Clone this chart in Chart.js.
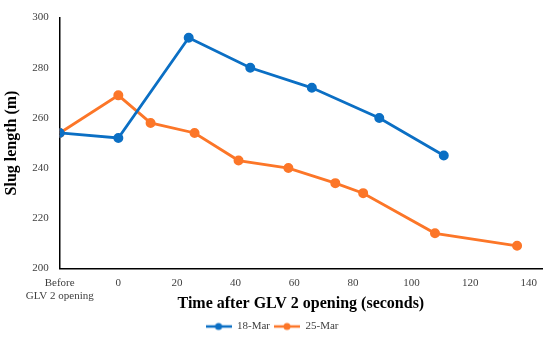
<!DOCTYPE html>
<html>
<head>
<meta charset="utf-8">
<script src="https://cdn.jsdelivr.net/npm/chart.js@4.4.0/dist/chart.umd.min.js"></script>
<style>
  html, body { margin: 0; padding: 0; background: #fff; }
  #wrap { width: 550px; height: 350px; }
</style>
</head>
<body>
<div id="wrap"><canvas id="slugChart"></canvas></div>
<script>
// Slug length after GLV 2 opening
const BEFORE = -20; // position used for "Before GLV 2 opening"

const mar18Time = [BEFORE, 0, 24, 45, 66, 89, 111];
const mar18Length = [254, 252, 292, 280, 272, 260, 245];

const mar25Time = [BEFORE, 0, 11, 26, 41, 58, 74, 83.5, 108, 136];
const mar25Length = [254, 269, 258, 254, 243, 240, 234, 230, 214, 209];

const xTickValues = [BEFORE, 0, 20, 40, 60, 80, 100, 120, 140];
const yTickValues = [200, 220, 240, 260, 280, 300];

const BLUE = '#0b6fc4';
const ORANGE = '#fc7628';
const FONT = "'Liberation Serif', 'DejaVu Serif', serif";

function toPoints(xs, ys) {
    return xs.map((x, i) => ({ x: x, y: ys[i] }));
}

// little line-with-dot sample for the legend
function legendMark(color) {
    const c = document.createElement('canvas');
    c.width = 26;
    c.height = 10;
    const g = c.getContext('2d');
    g.strokeStyle = color;
    g.lineWidth = 2.5;
    g.beginPath();
    g.moveTo(0, 5);
    g.lineTo(26, 5);
    g.stroke();
    g.fillStyle = color;
    g.beginPath();
    g.arc(13, 5, 3.5, 0, Math.PI * 2);
    g.fill();
    return c;
}

const ctx = document.getElementById('slugChart').getContext('2d');

new Chart(ctx, {
    type: 'scatter',
    data: {
        datasets: [{
            label: '18-Mar',
            data: toPoints(mar18Time, mar18Length),
            showLine: true,
            borderColor: BLUE,
            backgroundColor: BLUE,
            borderWidth: 2.8,
            pointRadius: 3.6,
            pointHoverRadius: 3.6,
            pointStyle: 'circle'
        }, {
            label: '25-Mar',
            data: toPoints(mar25Time, mar25Length),
            showLine: true,
            borderColor: ORANGE,
            backgroundColor: ORANGE,
            borderWidth: 2.8,
            pointRadius: 3.6,
            pointHoverRadius: 3.6,
            pointStyle: 'circle'
        }]
    },
    options: {
        responsive: true,
        maintainAspectRatio: false,
        animation: false,
        layout: { padding: { top: 1, right: 8, left: 2, bottom: 8 } },
        plugins: {
            tooltip: { enabled: false },
            legend: {
                position: 'bottom',
                labels: {
                    color: '#404040',
                    font: { family: FONT, size: 11 },
                    padding: 4,
                    boxHeight: 10,
                    pointStyleWidth: 26,
                    usePointStyle: true,
                    generateLabels: function(chart) {
                        return chart.data.datasets.map((ds, i) => ({
                            text: ds.label,
                            fillStyle: ds.borderColor,
                            strokeStyle: ds.borderColor,
                            fontColor: '#404040',
                            pointStyle: legendMark(ds.borderColor),
                            hidden: false,
                            lineWidth: 0,
                            datasetIndex: i
                        }));
                    }
                }
            }
        },
        scales: {
            x: {
                type: 'linear',
                min: BEFORE,
                max: 144.5,
                grid: { display: false, drawTicks: false },
                border: { color: '#000', width: 1.5 },
                afterBuildTicks: function(axis) {
                    axis.ticks = xTickValues.map(v => ({ value: v }));
                },
                ticks: {
                    color: '#404040',
                    font: { family: FONT, size: 11 },
                    padding: 8,
                    maxRotation: 0,
                    autoSkip: false,
                    callback: function(value) {
                        if (value === BEFORE) return ['Before', 'GLV 2 opening'];
                        return value;
                    }
                },
                title: {
                    display: true,
                    text: 'Time after GLV 2 opening (seconds)',
                    color: '#000',
                    font: { family: FONT, size: 16, weight: 'bold' },
                    padding: { top: -17, bottom: 4 }
                }
            },
            y: {
                min: 200,
                max: 300,
                grid: { display: false, drawTicks: false },
                border: { color: '#000', width: 1.5 },
                afterBuildTicks: function(axis) {
                    axis.ticks = yTickValues.map(v => ({ value: v }));
                },
                ticks: {
                    color: '#404040',
                    font: { family: FONT, size: 11 },
                    padding: 11
                },
                title: {
                    display: true,
                    text: 'Slug length (m)',
                    color: '#000',
                    font: { family: FONT, size: 16, weight: 'bold' },
                    padding: { top: 0, bottom: 0 }
                }
            }
        }
    }
});
</script>
</body>
</html>
